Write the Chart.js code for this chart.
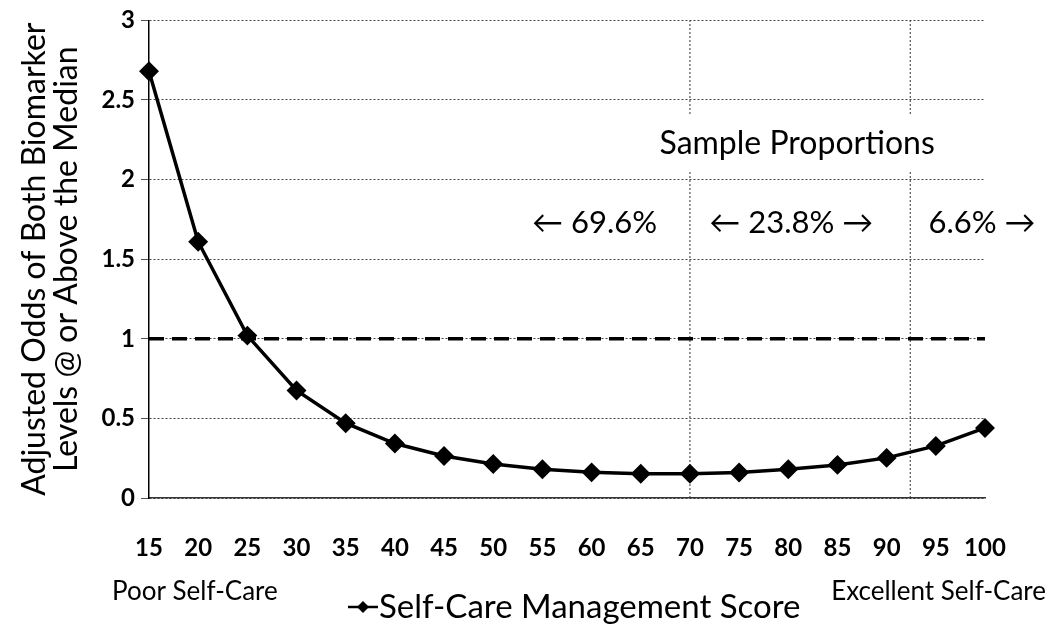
<!DOCTYPE html>
<html>
<head>
<meta charset="utf-8">
<script src="https://cdn.jsdelivr.net/npm/chart.js@4/dist/chart.umd.min.js"></script>
<style>
  html, body { margin: 0; padding: 0; background: #fff; }
  #wrap { width: 1050px; height: 627px; position: relative; }
</style>
</head>
<body>
<div id="wrap"><canvas id="myChart"></canvas></div>
<script>
// data
const scores = [15, 20, 25, 30, 35, 40, 45, 50, 55, 60, 65, 70, 75, 80, 85, 90, 95, 100];
const odds = [2.68, 1.61, 1.02, 0.675, 0.47, 0.342, 0.264, 0.213, 0.181, 0.161, 0.152, 0.152, 0.16, 0.18, 0.208, 0.252, 0.327, 0.44];
const refOdds = 1;
const splitScores = [70, 92.4];
const shareLabels = ['\u2190 69.6%', '\u2190 23.8% \u2192', '6.6% \u2192'];
const shareCenters = [60.3, 80.3, 99.7];

const seriesName = 'Self-Care Management Score';
const yTitle = ['Adjusted Odds of Both Biomarker', 'Levels @ or Above the Median'];
const FONT = 'Lato, "DejaVu Sans", sans-serif';

const points = scores.map((s, i) => ({ x: s, y: odds[i] }));

const extras = {
  id: 'extras',
  afterDatasetsDraw(chart) {
    const { ctx, scales: { x, y } } = chart;
    ctx.save();
    ctx.fillStyle = '#000';
    ctx.textBaseline = 'middle';
    ctx.textAlign = 'center';

    // Sample Proportions box (white background hides the dotted lines)
    ctx.font = '32px ' + FONT;
    const cx = x.getPixelForValue(80.9), cy = y.getPixelForValue(2.225);
    const w = ctx.measureText('Sample Proportions').width;
    ctx.fillStyle = '#fff';
    ctx.fillRect(cx - w / 2 - 4, cy - 28, w + 8, 56);
    ctx.fillStyle = '#000';
    ctx.fillText('Sample Proportions', cx, cy);

    ctx.font = '31px ' + FONT;
    shareLabels.forEach((t, i) => {
      ctx.fillText(t, x.getPixelForValue(shareCenters[i]), y.getPixelForValue(1.725));
    });

    // bottom texts
    ctx.font = '26px ' + FONT;
    ctx.textAlign = 'left';
    ctx.fillText('Poor Self-Care', 112, 592);
    ctx.textAlign = 'right';
    ctx.fillText('Excellent Self-Care', 1046, 592);

    // legend
    ctx.font = '33px ' + FONT;
    ctx.textAlign = 'left';
    const lx = 348, ly = 607;
    ctx.strokeStyle = '#000';
    ctx.lineWidth = 2.5;
    ctx.beginPath();
    ctx.moveTo(lx, ly);
    ctx.lineTo(lx + 30, ly);
    ctx.stroke();
    ctx.beginPath();
    ctx.moveTo(lx + 15, ly - 6);
    ctx.lineTo(lx + 21, ly);
    ctx.lineTo(lx + 15, ly + 6);
    ctx.lineTo(lx + 9, ly);
    ctx.closePath();
    ctx.fill();
    ctx.fillText(seriesName, lx + 31, ly);
    ctx.restore();
  }
};

new Chart(document.getElementById('myChart'), {
  type: 'line',
  data: {
    datasets: [
      {
        label: seriesName,
        data: points,
        borderColor: '#000',
        backgroundColor: '#000',
        borderWidth: 3.5,
        pointStyle: 'rectRot',
        pointRadius: 7.5,
        clip: false
      },
      {
        label: 'reference',
        data: [{ x: scores[0], y: refOdds }, { x: scores[scores.length - 1], y: refOdds }],
        borderColor: '#000',
        borderWidth: 3.5,
        borderDash: [15, 8],
        pointRadius: 0
      },
      ...splitScores.map(s => ({
        label: 'split',
        data: [{ x: s, y: 0 }, { x: s, y: 3 }],
        borderColor: '#333',
        borderWidth: 1,
        borderDash: [2, 2],
        pointRadius: 0
      }))
    ]
  },
  options: {
    responsive: true,
    maintainAspectRatio: false,
    animation: false,
    layout: { padding: { top: 18, right: 65, left: 0, bottom: 0 } },
    plugins: { legend: { display: false }, tooltip: { enabled: false } },
    scales: {
      x: {
        type: 'linear',
        min: 15,
        max: 100,
        afterFit: (s) => { s.height = 129; },
        grid: { display: false, drawTicks: false },
        border: { color: '#333', width: 1.5 },
        ticks: { stepSize: 5, padding: 36, color: '#000', font: { family: FONT, size: 24, weight: 'bold' } }
      },
      y: {
        min: 0,
        max: 3,
        afterFit: (s) => { s.width = 149; },
        grid: { color: '#444', lineWidth: 1, tickLength: 8, tickColor: '#555' },
        border: { color: '#000', width: 1.5, dash: [2, 2] },
        ticks: {
          stepSize: 0.5, padding: 6, color: '#000',
          font: { family: FONT, size: 24, weight: 'bold' },
          callback: (v) => String(v)
        },
        title: {
          display: true,
          text: yTitle,
          color: '#000',
          padding: { top: 18, bottom: 0 },
          font: { family: FONT, size: 32, lineHeight: 1.02 }
        }
      }
    }
  },
  plugins: [extras]
});
</script>
</body>
</html>
